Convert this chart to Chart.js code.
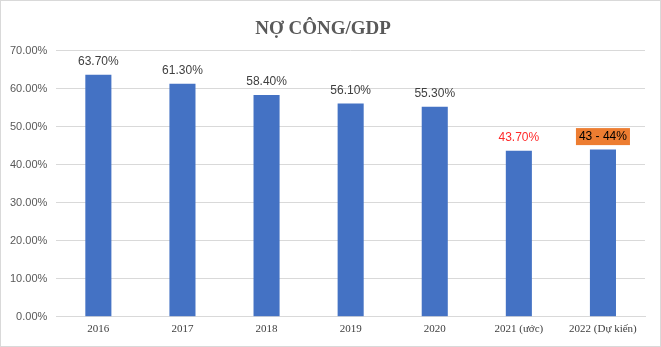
<!DOCTYPE html>
<html>
<head>
<meta charset="utf-8">
<script src="https://cdn.jsdelivr.net/npm/chart.js@4/dist/chart.umd.min.js"></script>
<style>
  html, body { margin: 0; padding: 0; background: #fff; }
  #wrap { width: 661px; height: 347px; box-sizing: border-box; border: 1px solid #d9d9d9; }
</style>
</head>
<body>
<div id="wrap"><canvas id="debt-chart"></canvas></div>
<script>
var years = ["2016", "2017", "2018", "2019", "2020", "2021 (ước)", "2022 (Dự kiến)"];
var debtRatio = [63.7, 61.3, 58.4, 56.1, 55.3, 43.7, 44];
var valueLabels = ["63.70%", "61.30%", "58.40%", "56.10%", "55.30%", "43.70%", "43 - 44%"];
var labelColors = ["#404040", "#404040", "#404040", "#404040", "#404040", "#ff2a2a", "#000000"];

// value text above each bar; the forecast one sits on an orange box
var barLabels = {
  id: 'barLabels',
  afterDatasetsDraw: function (chart) {
    var ctx = chart.ctx;
    var meta = chart.getDatasetMeta(0);
    ctx.save();
    ctx.font = '12px "Liberation Sans", Arial, sans-serif';
    ctx.textAlign = 'center';
    ctx.textBaseline = 'middle';
    meta.data.forEach(function (bar, i) {
      var y = bar.y - 13;
      var text = valueLabels[i];
      if (i === valueLabels.length - 1) {
        var w = ctx.measureText(text).width + 6;
        ctx.fillStyle = '#ed7d31';
        ctx.fillRect(bar.x - w / 2, y - 8.5, w, 17);
      }
      ctx.fillStyle = labelColors[i];
      ctx.fillText(text, bar.x, y);
    });
    ctx.restore();
  }
};

new Chart(document.getElementById("debt-chart"), {
  type: 'bar',
  data: {
    labels: years,
    datasets: [{
      label: "Nợ công/GDP",
      data: debtRatio,
      backgroundColor: "#4472c4",
      barPercentage: 0.31,
      categoryPercentage: 1
    }]
  },
  options: {
    responsive: true,
    maintainAspectRatio: false,
    animation: false,
    layout: { padding: { left: 0, right: 15, top: 0, bottom: 4 } },
    plugins: {
      legend: { display: false },
      tooltip: { enabled: false },
      title: {
        display: true,
        text: 'NỢ CÔNG/GDP',
        color: '#595959',
        font: { family: '"Liberation Serif", "Times New Roman", serif', size: 19, weight: 'bold' },
        padding: { top: 17, bottom: 10 }
      }
    },
    scales: {
      x: {
        grid: { display: false, drawTicks: false },
        border: { color: '#d9d9d9' },
        ticks: {
          color: '#404040',
          font: { family: '"Liberation Serif", "Times New Roman", serif', size: 11 },
          padding: 6
        }
      },
      y: {
        min: 0,
        max: 70,
        grid: { color: '#d9d9d9', drawTicks: false },
        border: { display: false },
        ticks: {
          stepSize: 10,
          color: '#595959',
          font: { family: '"Liberation Sans", Arial, sans-serif', size: 11 },
          padding: 9,
          callback: function (v) { return v.toFixed(2) + '%'; }
        }
      }
    }
  },
  plugins: [barLabels]
});
</script>
</body>
</html>
